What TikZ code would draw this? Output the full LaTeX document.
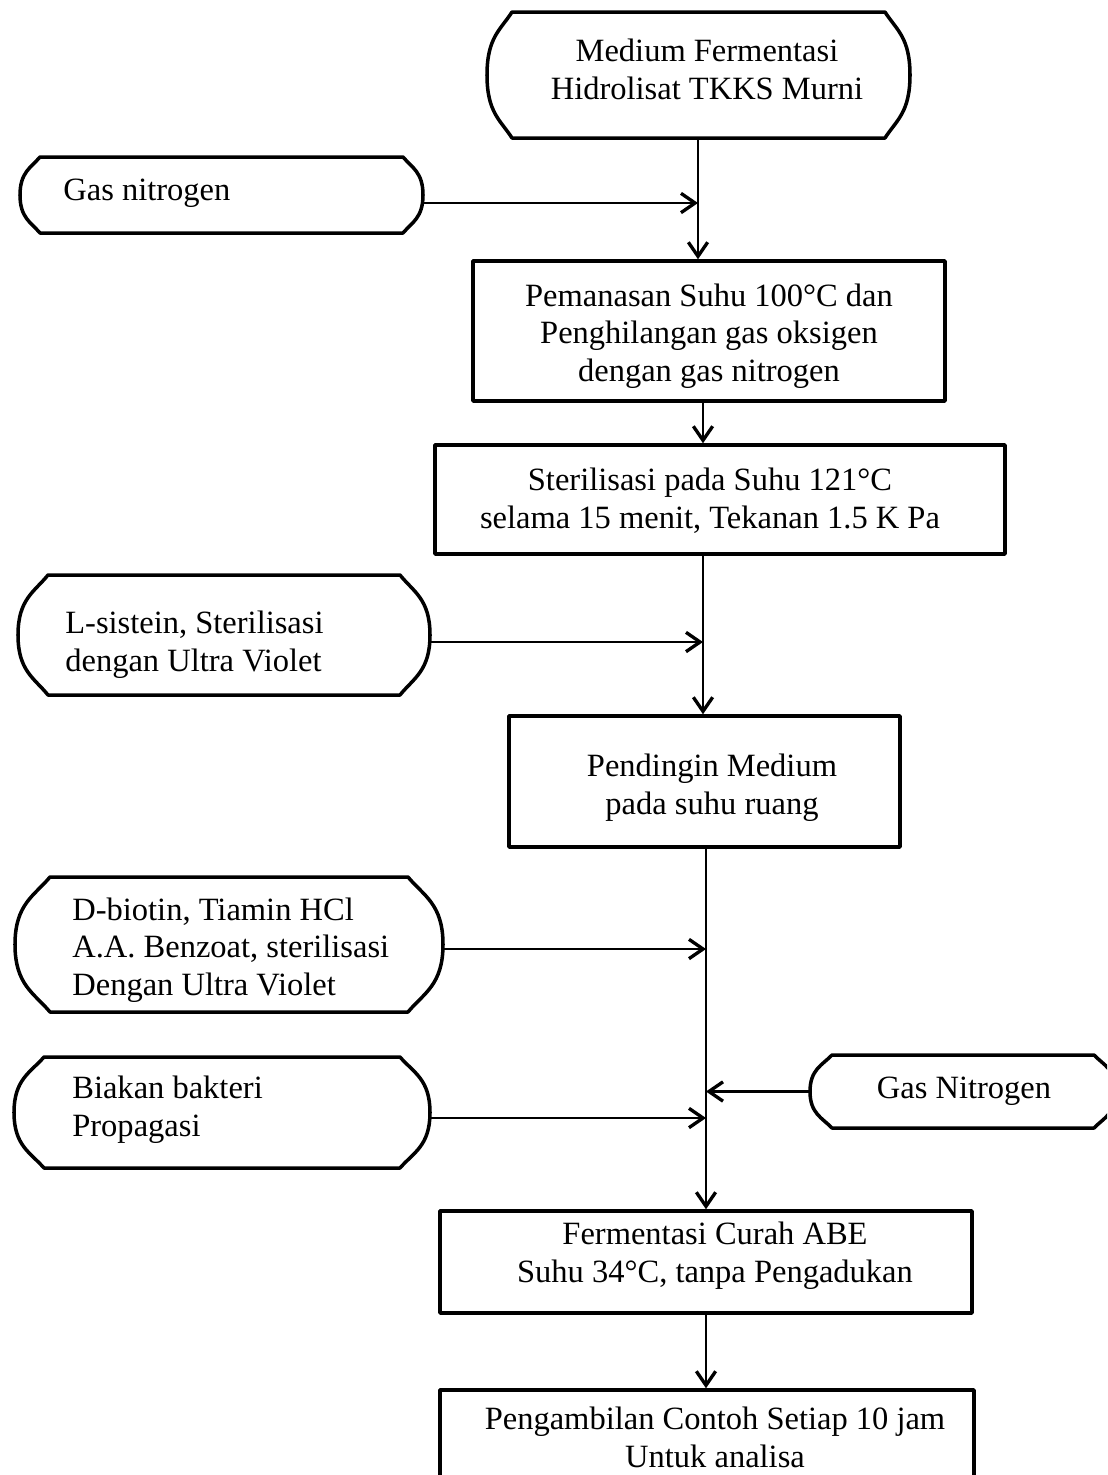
\documentclass[tikz,border=0pt]{standalone}
\usepackage{fontspec}
\setmainfont{Liberation Serif}
\usetikzlibrary{arrows.meta,fit}
\tikzset{
  boxline/.style={line width=2pt, line join=round},
  flow/.style={line width=1.3pt, -{Straight Barb[length=8pt,width=11pt,line width=1.9pt]}},
  txt/.style={inner sep=0pt, font=\fontsize{18.5}{21.5}\selectfont},
  ctxt/.style={txt, align=center},
  ltxt/.style={txt, align=left, anchor=west},
}
\newcommand{\termbox}[6]{%
  \pgfmathsetmacro\tmh{#5-#3}%
  \pgfmathsetmacro\tmm{(#3+#5)/2}%
  \draw[boxline] ({#2+#6},#3) -- ({#4-#6},#3)
    .. controls ({#4-0.55*#6},{#3+0.14*\tmh}) and (#4,{\tmm-0.3*\tmh}) .. (#4,\tmm)
    .. controls (#4,{\tmm+0.3*\tmh}) and ({#4-0.55*#6},{#5-0.14*\tmh}) .. ({#4-#6},#5)
    -- ({#2+#6},#5)
    .. controls ({#2+0.55*#6},{#5-0.14*\tmh}) and (#2,{\tmm+0.3*\tmh}) .. (#2,\tmm)
    .. controls (#2,{\tmm-0.3*\tmh}) and ({#2+0.55*#6},{#3+0.14*\tmh}) .. cycle;
  \coordinate (#1-nw) at (#2,#3);
  \coordinate (#1-se) at (#4,#5);
  \node[fit=(#1-nw)(#1-se), inner sep=0pt] (#1) {};
}
\newcommand{\rectbox}[5]{%
  \coordinate (#1-nw) at (#2,#3);
  \coordinate (#1-se) at (#4,#5);
  \node[fit=(#1-nw)(#1-se), inner sep=0pt, boxline, draw] (#1) {};
}
\begin{document}
\begin{tikzpicture}[x=0.02cm,y=-0.02cm]
\clip (0,0) rectangle (1107,1475);
\fill[white] (0,0) rectangle (1107,1475);

% boxes
\termbox{top}{487}{12}{910}{138}{25}
\termbox{gasA}{20}{157}{423}{233}{20}
\rectbox{pem}{473}{261}{945}{401}
\rectbox{ster}{435}{445}{1005}{554}
\termbox{lsis}{18}{575}{430}{695}{30}
\rectbox{pend}{509}{716}{900}{847}
\termbox{dbio}{15}{877}{443}{1012}{35}
\termbox{biak}{14}{1057}{430}{1168}{30}
\termbox{gasB}{810}{1055}{1116}{1128}{22}
\rectbox{ferm}{440}{1211}{972}{1313}
\rectbox{peng}{440}{1390}{974}{1484}

% texts
\node[ctxt] (t-top) at (707,69) {Medium Fermentasi\\Hidrolisat TKKS Murni};
\node[ltxt] (t-gasA) at (63,193) {Gas nitrogen};
\node[ctxt] (t-pem) at (709,336) {Pemanasan Suhu 100°C dan\\Penghilangan gas oksigen\\dengan gas nitrogen};
\node[ctxt] (t-ster) at (710,501) {Sterilisasi pada Suhu 121°C\\selama 15 menit, Tekanan 1.5 K Pa};
\node[ltxt] (t-lsis) at (65,645) {L-sistein, Sterilisasi\\dengan Ultra Violet};
\node[ctxt] (t-pend) at (712,788) {Pendingin Medium\\pada suhu ruang};
\node[ltxt] (t-dbio) at (72,950) {D-biotin, Tiamin HCl\\A.A. Benzoat, sterilisasi\\Dengan Ultra Violet};
\node[ltxt] (t-biak) at (72,1110) {Biakan bakteri\\Propagasi};
\node[ctxt] (t-gasB) at (964,1091) {Gas Nitrogen};
\node[ctxt] (t-ferm) at (715,1256) {Fermentasi Curah ABE\\Suhu 34°C, tanpa Pengadukan};
\node[ctxt] (t-peng) at (715,1437) {Pengambilan Contoh Setiap 10 jam\\Untuk analisa};

% flow line positions
\coordinate (f1) at (698,0);
\coordinate (f2) at (703,0);
\coordinate (f4) at (706,0);

% main flow
\draw[flow] (top.south -| f1) -- (pem.north -| f1);
\draw[flow] (pem.south -| f2) -- (ster.north -| f2);
\draw[flow] (ster.south -| f2) -- (pend.north -| f2);
\draw[flow] (pend.south -| f4) -- (ferm.north -| f4);
\draw[flow] (ferm.south -| f4) -- (peng.north -| f4);

% side inputs
\coordinate (ya) at (0,203);
\draw[flow] (gasA.east |- ya) -- (f1 |- ya);
\coordinate (yl) at (0,642);
\draw[flow] (lsis.east |- yl) -- (f2 |- yl);
\coordinate (yd) at (0,949);
\draw[flow] (dbio.east |- yd) -- (f4 |- yd);
\coordinate (yb) at (0,1118);
\draw[flow] (biak.east |- yb) -- (f4 |- yb);
\draw[flow] (gasB.west) -- (gasB.west -| f4);
\end{tikzpicture}
\end{document}
